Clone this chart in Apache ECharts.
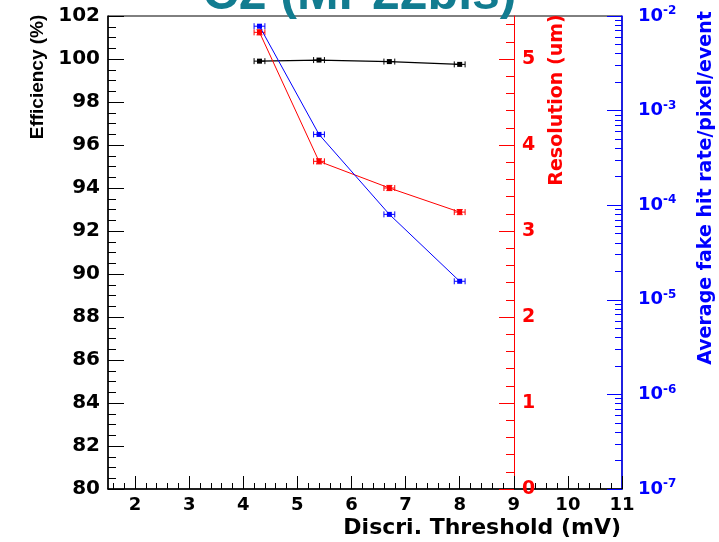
<!DOCTYPE html>
<html>
<head>
<meta charset="utf-8">
<script src="https://cdn.jsdelivr.net/npm/echarts@6/dist/echarts.min.js"></script>
<style>
  html, body { margin: 0; padding: 0; background: #fff; }
  #chart { width: 719px; height: 542px; }
</style>
</head>
<body>
<div id="chart"></div>
<script>
// values
const thresholds = [4.3, 5.4, 6.7, 8.0]
const thresholdErr = [0.1, 0.1, 0.1, 0.1]
const efficiency = [99.9, 99.95, 99.88, 99.75]
const resolution = [5.31, 3.81, 3.5, 3.22]
const resolutionErr = [0.03, 0.03, 0.03, 0.03]
const fakeRate = [7.8e-3, 5.6e-4, 8.0e-5, 1.57e-5]

const xTicks = [2, 3, 4, 5, 6, 7, 8, 9, 10, 11]
const resTicks = [0, 1, 2, 3, 4, 5]
const rateTicks = [1e-7, 1e-6, 1e-5, 1e-4, 1e-3, 1e-2]

const NARROW = 'Liberation Sans, Arial, sans-serif'
const WIDE = 'DejaVu Sans, sans-serif'

// minor tick positions
const xMinor = []
for (let v = 1.6; v < 11; v += 0.2) {
  const r = Math.round(v * 10) / 10
  if (Math.abs(r - Math.round(r)) > 0.01) xMinor.push(r)
}
const resMinor = []
for (let v = 0.2; v < 5.5; v += 0.2) {
  const r = Math.round(v * 10) / 10
  if (Math.abs(r - Math.round(r)) > 0.01) resMinor.push(r)
}
const rateMinor = []
for (let e = -7; e < -2; e++) {
  for (let m = 2; m <= 9; m++) rateMinor.push(m * Math.pow(10, e))
}

function pairs(xs, ys, xe, ye) {
  return xs.map((x, i) => [x, ys[i], xe ? xe[i] : 0, ye ? ye[i] : 0])
}

function errorBars(color) {
  return function (params, api) {
    const x = api.value(0), y = api.value(1), ex = api.value(2), ey = api.value(3)
    const l = api.coord([x - ex, y])
    const r = api.coord([x + ex, y])
    const style = { stroke: color, lineWidth: 1 }
    const children = [
      { type: 'line', shape: { x1: l[0], y1: l[1], x2: r[0], y2: r[1] }, style },
      { type: 'line', shape: { x1: l[0], y1: l[1] - 3, x2: l[0], y2: l[1] + 3 }, style },
      { type: 'line', shape: { x1: r[0], y1: r[1] - 3, x2: r[0], y2: r[1] + 3 }, style }
    ]
    if (ey > 0) {
      const t = api.coord([x, y + ey])
      const b = api.coord([x, y - ey])
      children.push(
        { type: 'line', shape: { x1: t[0], y1: t[1], x2: b[0], y2: b[1] }, style },
        { type: 'line', shape: { x1: t[0] - 3, y1: t[1], x2: t[0] + 3, y2: t[1] }, style },
        { type: 'line', shape: { x1: b[0] - 3, y1: b[1], x2: b[0] + 3, y2: b[1] }, style }
      )
    }
    return { type: 'group', children }
  }
}

const chart = echarts.init(document.getElementById('chart'))

const labelBase = { fontFamily: WIDE, fontWeight: 'bold', fontSize: 19 }

chart.setOption({
  animation: false,
  grid: {
    left: 108, right: 97, top: 16, bottom: 53,
    show: true, borderColor: '#000', borderWidth: 1, backgroundColor: '#fff'
  },
  xAxis: [
    {
      type: 'value', min: 1.5, max: 11, position: 'bottom',
      axisLine: { lineStyle: { color: '#000', width: 1.5 } },
      axisTick: { inside: true, length: 13, lineStyle: { color: '#000' }, customValues: xTicks },
      axisLabel: { ...labelBase, fontSize: 18, color: '#000', margin: 7, customValues: xTicks },
      splitLine: { show: false }
    },
    {
      type: 'value', min: 1.5, max: 11, position: 'bottom',
      axisLine: { show: false },
      axisTick: { inside: true, length: 6, lineStyle: { color: '#000' }, customValues: xMinor },
      axisLabel: { show: false },
      splitLine: { show: false }
    }
  ],
  yAxis: [
    {
      type: 'value', min: 80, max: 102, interval: 2, position: 'left',
      axisLine: { show: true, lineStyle: { color: '#000', width: 1.5 } },
      axisTick: { inside: true, length: 16, lineStyle: { color: '#000' } },
      minorTick: { show: true, splitNumber: 4, length: 8, lineStyle: { color: '#000' } },
      axisLabel: { ...labelBase, fontSize: 20, color: '#000', margin: 8 },
      splitLine: { show: false }
    },
    {
      type: 'value', min: 0, max: 5.5, position: 'right', offset: -108,
      axisLine: { show: true, lineStyle: { color: '#ff0000', width: 1 } },
      axisTick: { inside: true, length: 15, lineStyle: { color: '#ff0000' }, customValues: resTicks },
      axisLabel: { ...labelBase, color: '#ff0000', margin: 8, customValues: resTicks },
      splitLine: { show: false }
    },
    {
      type: 'value', min: 0, max: 5.5, position: 'right', offset: -108,
      axisLine: { show: false },
      axisTick: { inside: true, length: 8, lineStyle: { color: '#ff0000' }, customValues: resMinor },
      axisLabel: { show: false },
      splitLine: { show: false }
    },
    {
      type: 'log', logBase: 10, min: 1e-7, max: 1e-2, position: 'right', offset: 0,
      axisLine: { show: true, lineStyle: { color: '#0000ff', width: 1.5 } },
      axisTick: { inside: true, length: 15, lineStyle: { color: '#0000ff' }, customValues: rateTicks },
      axisLabel: {
        margin: 16,
        customValues: rateTicks,
        formatter: v => '{b|10}{s|' + Math.round(Math.log10(v)) + '}',
        rich: {
          b: { ...labelBase, color: '#0000ff', fontSize: 18 },
          s: { ...labelBase, color: '#0000ff', fontSize: 12, verticalAlign: 'top', padding: [0, 0, 10, 0] }
        }
      },
      splitLine: { show: false }
    },
    {
      type: 'log', logBase: 10, min: 1e-7, max: 1e-2, position: 'right', offset: 0,
      axisLine: { show: false },
      axisTick: { inside: true, length: 7, lineStyle: { color: '#0000ff' }, customValues: rateMinor },
      axisLabel: { show: false },
      splitLine: { show: false }
    }
  ],
  graphic: [
    {
      type: 'text', left: 'center', top: -30, z: 10,
      style: { text: 'C2 (MP22bis)', fill: '#127c90', font: 'bold 50px ' + NARROW }
    },
    {
      type: 'text', x: 38, y: 77, rotation: Math.PI / 2,
      style: { text: 'Efficiency (%)', fill: '#000', font: 'bold 19px ' + NARROW, align: 'center', verticalAlign: 'middle' }
    },
    {
      type: 'text', x: 557, y: 100, rotation: Math.PI / 2,
      style: { text: 'Resolution (um)', fill: '#ff0000', font: 'bold 19px ' + WIDE, align: 'center', verticalAlign: 'middle' }
    },
    {
      type: 'text', x: 706, y: 188, rotation: Math.PI / 2,
      style: { text: 'Average fake hit rate/pixel/event', fill: '#0000ff', font: 'bold 19px ' + WIDE, align: 'center', verticalAlign: 'middle' }
    },
    {
      type: 'text', x: 621, y: 528,
      style: { text: 'Discri. Threshold (mV)', fill: '#000', font: 'bold 22px ' + WIDE, align: 'right', verticalAlign: 'middle' }
    }
  ],
  series: [
    {
      name: 'Efficiency', type: 'line', xAxisIndex: 0, yAxisIndex: 0,
      data: pairs(thresholds, efficiency),
      symbol: 'rect', symbolSize: 5, itemStyle: { color: '#000' },
      lineStyle: { color: '#000', width: 1.2 }, z: 3
    },
    {
      type: 'custom', xAxisIndex: 0, yAxisIndex: 0,
      data: pairs(thresholds, efficiency, thresholdErr),
      renderItem: errorBars('#000'), z: 3
    },
    {
      name: 'Resolution', type: 'line', xAxisIndex: 0, yAxisIndex: 1,
      data: pairs(thresholds, resolution),
      symbol: 'rect', symbolSize: 5, itemStyle: { color: '#ff0000' },
      lineStyle: { color: '#ff0000', width: 1 }, z: 3
    },
    {
      type: 'custom', xAxisIndex: 0, yAxisIndex: 1,
      data: pairs(thresholds, resolution, thresholdErr, resolutionErr),
      renderItem: errorBars('#ff0000'), z: 3
    },
    {
      name: 'Fake rate', type: 'line', xAxisIndex: 0, yAxisIndex: 3,
      data: pairs(thresholds, fakeRate),
      symbol: 'rect', symbolSize: 5, itemStyle: { color: '#0000ff' },
      lineStyle: { color: '#0000ff', width: 1 }, z: 3
    },
    {
      type: 'custom', xAxisIndex: 0, yAxisIndex: 3,
      data: pairs(thresholds, fakeRate, thresholdErr),
      renderItem: errorBars('#0000ff'), z: 3
    }
  ]
})
</script>
</body>
</html>
